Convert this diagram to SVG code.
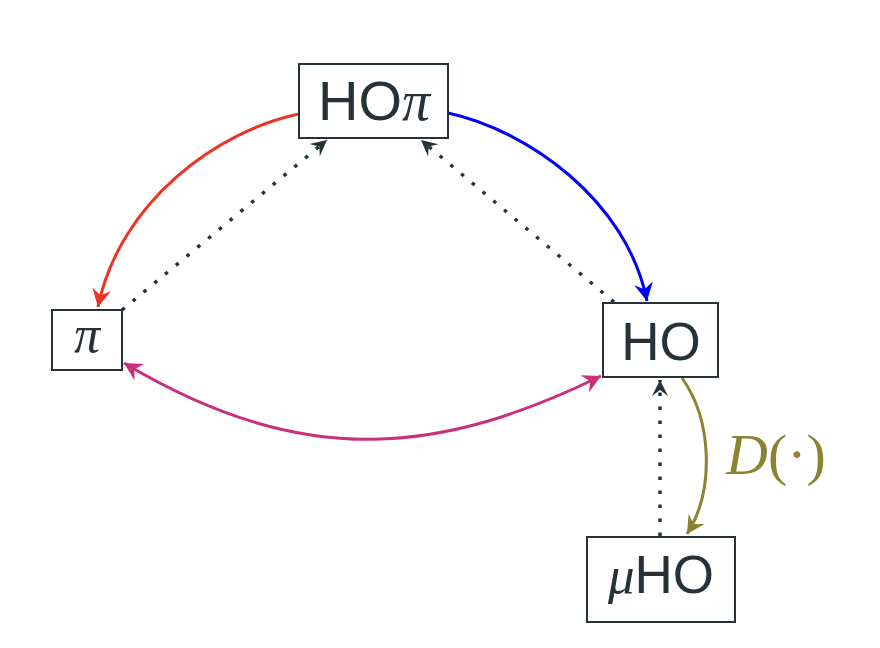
<svg xmlns="http://www.w3.org/2000/svg" width="880" height="648" viewBox="0 0 880 648">
<defs>
<style>
.box{fill:#ffffff;stroke:#263238;stroke-width:2}
.lbl{font-family:"Liberation Sans",Arial,sans-serif;fill:#263238;text-anchor:middle}
.gr{font-family:"Liberation Serif","DejaVu Serif",serif;font-style:italic}
.edge{fill:none;stroke-width:3}
.dot{fill:none;stroke:#263238;stroke-width:3.5;stroke-dasharray:3.5 10.5}
</style>
<marker id="aRed" viewBox="-20 -11 22 22" refX="0" refY="0" markerWidth="22" markerHeight="22" markerUnits="userSpaceOnUse" orient="auto-start-reverse"><path d="M0,0 L-18,-9.5 L-12,0 L-18,9.5 Z" fill="#ec3424"/></marker>
<marker id="aBlue" viewBox="-20 -11 22 22" refX="0" refY="0" markerWidth="22" markerHeight="22" markerUnits="userSpaceOnUse" orient="auto-start-reverse"><path d="M0,0 L-18,-9.5 L-12,0 L-18,9.5 Z" fill="#0000ff"/></marker>
<marker id="aMag" viewBox="-20 -11 22 22" refX="0" refY="0" markerWidth="22" markerHeight="22" markerUnits="userSpaceOnUse" orient="auto-start-reverse"><path d="M0,0 L-18,-9.5 L-12,0 L-18,9.5 Z" fill="#c92f7d"/></marker>
<marker id="aOl" viewBox="-20 -11 22 22" refX="0" refY="0" markerWidth="22" markerHeight="22" markerUnits="userSpaceOnUse" orient="auto-start-reverse"><path d="M0,0 L-18,-9.5 L-12,0 L-18,9.5 Z" fill="#8a8430"/></marker>
<marker id="aDk" viewBox="-20 -11 22 22" refX="0" refY="0" markerWidth="22" markerHeight="22" markerUnits="userSpaceOnUse" orient="auto-start-reverse"><path d="M0,0 L-16,-8 L-10,0 L-16,8 Z" fill="#263238"/></marker>
</defs>
<rect width="880" height="648" fill="#ffffff"/>
<g id="connectors">
<path class="edge" d="M299,114 C220,130 120,200 98,307" stroke="#ec3424" marker-end="url(#aRed)"/>
<path class="edge" d="M448,113 C527,130 627,200 647,301" stroke="#0000ff" marker-end="url(#aBlue)"/>
<path class="edge" d="M124,363 C308,473 445,452 601,376" stroke="#c92f7d" marker-start="url(#aMag)" marker-end="url(#aMag)"/>
<path class="edge" d="M682,378 C712,420 715,490 687,534" stroke="#8a8430" marker-end="url(#aOl)"/>
<path class="dot" d="M122,310 L327,140" marker-end="url(#aDk)"/>
<path class="dot" d="M614,302 L421,140" marker-end="url(#aDk)"/>
<path class="dot" d="M660,536 L660,380" marker-end="url(#aDk)"/>
<text x="726" y="474" font-size="58" fill="#8a8430" font-family="'Liberation Serif',serif"><tspan font-style="italic">D</tspan><tspan>(·)</tspan></text>
</g>
<g id="node-HOpi">
<rect class="box" x="299" y="64" width="149" height="74"/>
<text class="lbl" x="374" y="120" font-size="56">HO<tspan class="gr">π</tspan></text>
</g>
<g id="node-pi">
<rect class="box" x="52" y="310" width="70" height="60"/>
<text class="lbl gr" x="87" y="352" font-size="52">π</text>
</g>
<g id="node-HO">
<rect class="box" x="603" y="303" width="115" height="74"/>
<text class="lbl" x="661" y="360" font-size="53">HO</text>
</g>
<g id="node-muHO">
<rect class="box" x="587" y="537" width="148" height="85"/>
<text class="lbl" x="661" y="593" font-size="53"><tspan class="gr">μ</tspan>HO</text>
</g>
</svg>
